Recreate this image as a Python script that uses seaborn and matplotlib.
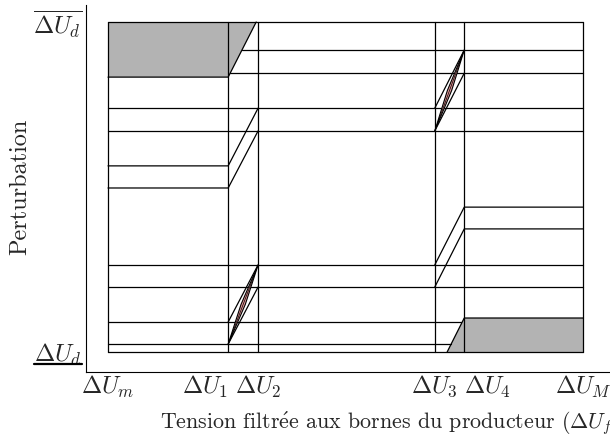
import numpy as np
import pandas as pd
import matplotlib
matplotlib.use("Agg")
import matplotlib.pyplot as plt
import seaborn as sns
from matplotlib.lines import Line2D

sns.set_theme(style="white")
plt.rcParams["font.family"] = ["cmr10", "DejaVu Serif"]
plt.rcParams["mathtext.fontset"] = "cm"
plt.rcParams["axes.unicode_minus"] = False
plt.rcParams["axes.formatter.use_mathtext"] = True

# Positions des seuils de tension (axe x) et niveaux de perturbation (axe y)
x_ticks = [0.0, 0.253, 0.316, 0.688, 0.750, 1.0]
x_labels = [r"$\Delta U_m$", r"$\Delta U_1$", r"$\Delta U_2$",
            r"$\Delta U_3$", r"$\Delta U_4$", r"$\Delta U_M$"]
x_align = ["center", "right", "center", "center", "left", "center"]
y_ticks = [0.0, 0.5, 1.0]
y_labels = [r"$\Delta U_d$", "", r"$\overline{\Delta U_d}$"]

xm, x1, x2, x3, x4, xM = x_ticks

# Segments (polylignes) du diagramme
segments = {
    "haut": ([xm, xM], [1.0, 1.0]),
    "h1": ([0.282, xM], [0.915, 0.915]),
    "h2": ([0.257, xM], [0.845, 0.845]),
    "gris_haut": ([xm, x1, 0.312], [0.833, 0.833, 1.0]),
    "h3": ([xm, xM], [0.739, 0.739]),
    "h4": ([xm, xM], [0.670, 0.670]),
    "g1": ([xm, x1, x2], [0.564, 0.564, 0.739]),
    "g2": ([xm, x1, x2], [0.497, 0.497, 0.670]),
    "d1": ([x3, x4, xM], [0.264, 0.439, 0.439]),
    "d2": ([x3, x4, xM], [0.197, 0.373, 0.373]),
    "h5": ([xm, xM], [0.264, 0.264]),
    "h6": ([xm, xM], [0.197, 0.197]),
    "gris_bas": ([0.714, x4, xM], [0.0, 0.103, 0.103]),
    "h7": ([xm, 0.744], [0.091, 0.091]),
    "h8": ([xm, 0.722], [0.024, 0.024]),
    "bas": ([xm, xM], [0.0, 0.0]),
    "p1": ([x1, x2], [0.091, 0.264]),
    "p2": ([x1, x2], [0.024, 0.197]),
    "p3": ([x3, x4], [0.739, 0.915]),
    "p4": ([x3, x4], [0.670, 0.845]),
}
for i, xv in enumerate(x_ticks):
    segments[f"v{i}"] = ([xv, xv], [0.0, 1.0])

# Zones grisées
gris_haut_x = [xm, 0.312, x1, xm]
gris_haut_y = [1.0, 1.0, 0.833, 0.833]
gris_bas_x = [0.714, xM, xM, x4]
gris_bas_y = [0.0, 0.0, 0.103, 0.103]

# Fuseaux (cycles d'hystérésis serrés)
fuseaux = [((x1, 0.024), (x2, 0.264)), ((x3, 0.670), (x4, 0.915))]

rows = []
for name, (xs, ys) in segments.items():
    for k, (xv, yv) in enumerate(zip(xs, ys)):
        rows.append({"seg": name, "ordre": k, "x": xv, "y": yv})
df = pd.DataFrame(rows)

fig = plt.figure(figsize=(6.1, 4.43), dpi=100)
ax = fig.add_axes([86 / 610, (443 - 372) / 443, 608 / 610, 367 / 443])

ax.fill(gris_haut_x, gris_haut_y, color="#b3b3b3", lw=0, zorder=1)
ax.fill(gris_bas_x, gris_bas_y, color="#b3b3b3", lw=0, zorder=1)

sns.lineplot(data=df, x="x", y="y", units="seg", estimator=None, sort=False,
             color="black", lw=0.9, ax=ax, legend=False, zorder=2)

for (xa, ya), (xb, yb) in fuseaux:
    xmid, ymid = (xa + xb) / 2, (ya + yb) / 2
    ax.fill([xa, xmid - 0.0045, xb, xmid + 0.0045], [ya, ymid, yb, ymid],
            facecolor="#e89a9a", edgecolor="black", lw=0.8, zorder=3)
    ax.plot([xa, xb], [ya, yb], color="black", lw=0.5, zorder=4)

ax.set_xlim(-22 / 475, (694 - 108) / 475)
ax.set_ylim(-20 / 330, 1 + 17 / 330)

ax.set_xticks(x_ticks)
ax.set_xticklabels(x_labels, fontsize=17.5)
for lab, ha in zip(ax.get_xticklabels(), x_align):
    lab.set_horizontalalignment(ha)
ax.set_yticks(y_ticks)
ax.set_yticklabels(y_labels, fontsize=17.5)
ax.tick_params(direction="in", length=4, width=0.8, color="black")
ax.tick_params(axis="x", pad=1)
ax.tick_params(axis="y", pad=3)

ax.set_xlabel(r"Tension filtr$\acute{\mathrm{e}}$e aux bornes du producteur ($\Delta U_f$)",
              fontsize=15.8, ha="left", va="center")
ax.xaxis.set_label_coords((160 - 86) / 608, (372 - 423) / 367)
ax.set_ylabel("Perturbation", fontsize=17.5, ha="center", va="center")
ax.yaxis.set_label_coords((20 - 86) / 608, (372 - 187) / 367)

for side in ["top", "right"]:
    ax.spines[side].set_visible(False)
for side in ["left", "bottom"]:
    ax.spines[side].set_color("black")
    ax.spines[side].set_linewidth(0.8)

# soulignement du label du bas
fig.canvas.draw()
lab = ax.get_yticklabels()[0]
bb = lab.get_window_extent().transformed(fig.transFigure.inverted())
fig.add_artist(Line2D([bb.x0, bb.x1], [bb.y0 + 0.009, bb.y0 + 0.009],
                      transform=fig.transFigure, color="black", lw=1.6))

fig.savefig("out.png", dpi=100)
